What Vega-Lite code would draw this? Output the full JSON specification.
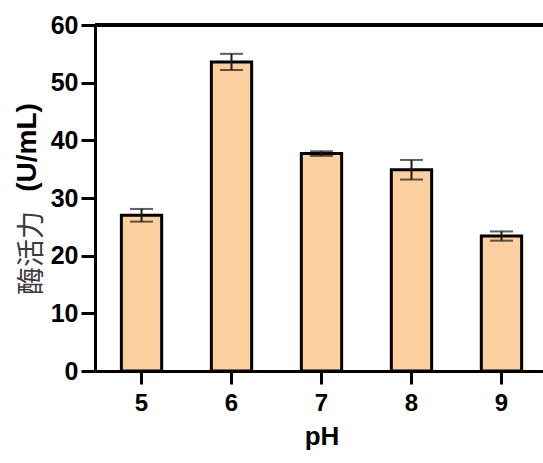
{
  "$schema": "https://vega.github.io/schema/vega-lite/v6.json",
  "width": 448,
  "height": 346,
  "autosize": "none",
  "padding": {"left": 95, "top": 25, "right": 0, "bottom": 92},
  "background": "white",
  "config": {"view": {"stroke": null}, "font": "Liberation Sans"},
  "title": {
    "text": "酶活力",
    "orient": "left",
    "anchor": "middle",
    "font": "Noto Sans CJK SC",
    "fontSize": 28,
    "fontWeight": "normal",
    "color": "#3a3a3a",
    "offset": -34,
    "dx": -55
  },
  "data": {
    "values": [
      {"pH": "5", "activity": 27.0, "sd": 1.1},
      {"pH": "6", "activity": 53.6, "sd": 1.4},
      {"pH": "7", "activity": 37.7, "sd": 0.4},
      {"pH": "8", "activity": 34.9, "sd": 1.7},
      {"pH": "9", "activity": 23.4, "sd": 0.8}
    ]
  },
  "layer": [
    {
      "encoding": {
        "x": {
          "field": "pH",
          "type": "ordinal",
          "scale": {"range": [0, 453], "paddingInner": 0.552, "paddingOuter": 0.293},
          "axis": {
            "title": "pH",
            "labelAngle": 0,
            "domainColor": "#000000",
            "domainWidth": 3,
            "tickColor": "#000000",
            "tickWidth": 3,
            "tickSize": 13,
            "labelFont": "Liberation Sans",
            "labelFontSize": 24,
            "labelFontWeight": "bold",
            "labelColor": "#000000",
            "labelPadding": 7,
            "titleFont": "Liberation Sans",
            "titleFontSize": 26,
            "titleFontWeight": "bold",
            "titleColor": "#000000",
            "titlePadding": 8
          }
        },
        "y": {
          "field": "activity",
          "type": "quantitative",
          "scale": {"domain": [0, 60]},
          "axis": {
            "title": "(U/mL)",
            "values": [0, 10, 20, 30, 40, 50, 60],
            "grid": false,
            "domainColor": "#000000",
            "domainWidth": 3,
            "tickColor": "#000000",
            "tickWidth": 3,
            "tickSize": 14,
            "labelFont": "Liberation Sans",
            "labelFontSize": 25,
            "labelFontWeight": "bold",
            "labelColor": "#000000",
            "labelPadding": 3,
            "titleFont": "Liberation Sans",
            "titleFontSize": 28,
            "titleFontWeight": "bold",
            "titleColor": "#000000",
            "titleAngle": 270,
            "titleAlign": "center",
            "titleBaseline": "middle",
            "titleX": -68,
            "titleY": 122
          }
        }
      },
      "layer": [
        {
          "mark": {"type": "bar", "fill": "#FBCF9E", "stroke": "#000000", "strokeWidth": 3}
        },
        {
          "mark": {
            "type": "errorbar",
            "color": "#1a1a1a",
            "thickness": 2,
            "ticks": {"size": 23, "thickness": 2, "color": "#1a1a1a"}
          },
          "encoding": {"yError": {"field": "sd"}}
        }
      ]
    },
    {
      "mark": {"type": "rule", "color": "#000000", "strokeWidth": 3},
      "encoding": {"y": {"datum": 60}}
    }
  ]
}
